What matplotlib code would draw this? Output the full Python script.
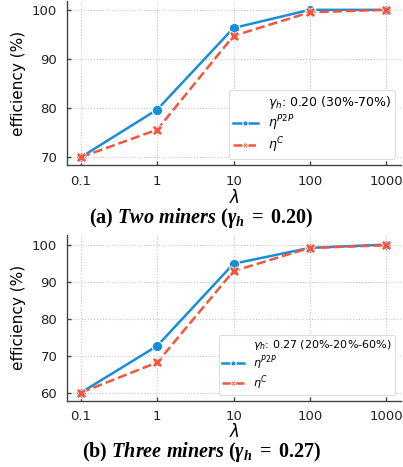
import matplotlib
matplotlib.use("Agg")
import matplotlib.pyplot as plt

# lambda values on x axis
lambdas = [0.1, 1, 10, 100, 1000]
lambda_labels = ["0.1", "1", "10", "100", "1000"]

# (a) two miners
two_p2p = [70.0, 79.7, 96.3, 100.0, 100.0]
two_c = [70.0, 75.6, 94.7, 99.5, 100.0]

# (b) three miners
three_p2p = [60.0, 72.7, 95.0, 99.3, 100.2]
three_c = [60.0, 68.2, 93.0, 99.3, 100.0]

BLUE = "#168fd8"
RED = "#f5543d"

# default math in sans, caption uses a custom serif set
plt.rcParams["mathtext.fontset"] = "dejavusans"
plt.rcParams["mathtext.rm"] = "Liberation Serif:bold"
plt.rcParams["mathtext.it"] = "Liberation Serif:bold:italic"
plt.rcParams["mathtext.bf"] = "Liberation Serif:bold"

fig = plt.figure(figsize=(4.03, 4.67), dpi=100)
W, H = 403, 467


def add_axes(left, top, right, bottom):
    return fig.add_axes([left / W, 1 - bottom / H, (right - left) / W, (bottom - top) / H])


def draw_panel(ax, p2p, c, ylim, yticks, title, caption, cap_y,
               leg_size, leg_spacing, xlab_pad):
    # seaborn-style legend: the hue title is an entry with an empty handle
    ax.plot([], [], ls="none", label=title)
    ax.plot(lambdas, p2p, color=BLUE, lw=1.8, marker="o", ms=7.5,
            mec="white", mew=0.8, label=r"$\eta^{P2P}$", zorder=3)
    ax.plot(lambdas, c, color=RED, lw=1.8, ls="--", marker="X", ms=7.5,
            mec="white", mew=0.6, label=r"$\eta^{C}$", zorder=4)
    ax.set_xscale("log")
    ax.set_xlim(0.0655, 1572)
    ax.set_xticks(lambdas)
    ax.set_xticklabels(lambda_labels)
    ax.minorticks_off()
    ax.set_ylim(*ylim)
    ax.set_yticks(yticks)
    ax.grid(True, ls=":", color="#c8c8c8", lw=0.8)
    for s in ["top", "right"]:
        ax.spines[s].set_visible(False)
    for s in ["left", "bottom"]:
        ax.spines[s].set_color("#444444")
        ax.spines[s].set_linewidth(1.0)
    ax.tick_params(direction="in", length=3, width=1, color="#444444",
                   labelsize=9.5, labelcolor="#222222", pad=7)
    ax.set_ylabel("efficiency (%)", fontsize=11, labelpad=4)
    ax.set_xlabel(r"$\lambda$", fontsize=12, labelpad=xlab_pad)
    leg = ax.legend(loc="lower right", fontsize=leg_size, markerscale=0.5,
                    frameon=True, fancybox=True, framealpha=1,
                    edgecolor="#dddddd", labelspacing=leg_spacing,
                    borderaxespad=0.5, handlelength=2.0, borderpad=0.3)
    leg.get_frame().set_linewidth(0.8)
    t = fig.text(0.5, 1 - cap_y / H, caption, ha="center", va="center",
                 fontsize=14.5, family="Liberation Serif", weight="bold")
    t.set_math_fontfamily("custom")


ax1 = add_axes(67, 1, 401, 165)
ax2 = add_axes(67, 235, 401, 400.7)

draw_panel(ax1, two_p2p, two_c, (68.4, 101.8), [70, 80, 90, 100],
           r"$\gamma_h$: 0.20 (30%-70%)",
           r"(a) $\mathit{Two\ miners\ (\gamma_h}\;=\;\mathrm{0.20}\mathit{)}$", 218,
           9, 0.2, 1)
draw_panel(ax2, three_p2p, three_c, (57.8, 102.8), [60, 70, 80, 90, 100],
           r"$\gamma_h$: 0.27 (20%-20%-60%)",
           r"(b) $\mathit{Three\ miners\ (\gamma_h}\;=\;\mathrm{0.27}\mathit{)}$", 452,
           8, 0.1, 0)

fig.savefig("out.png", dpi=100)
